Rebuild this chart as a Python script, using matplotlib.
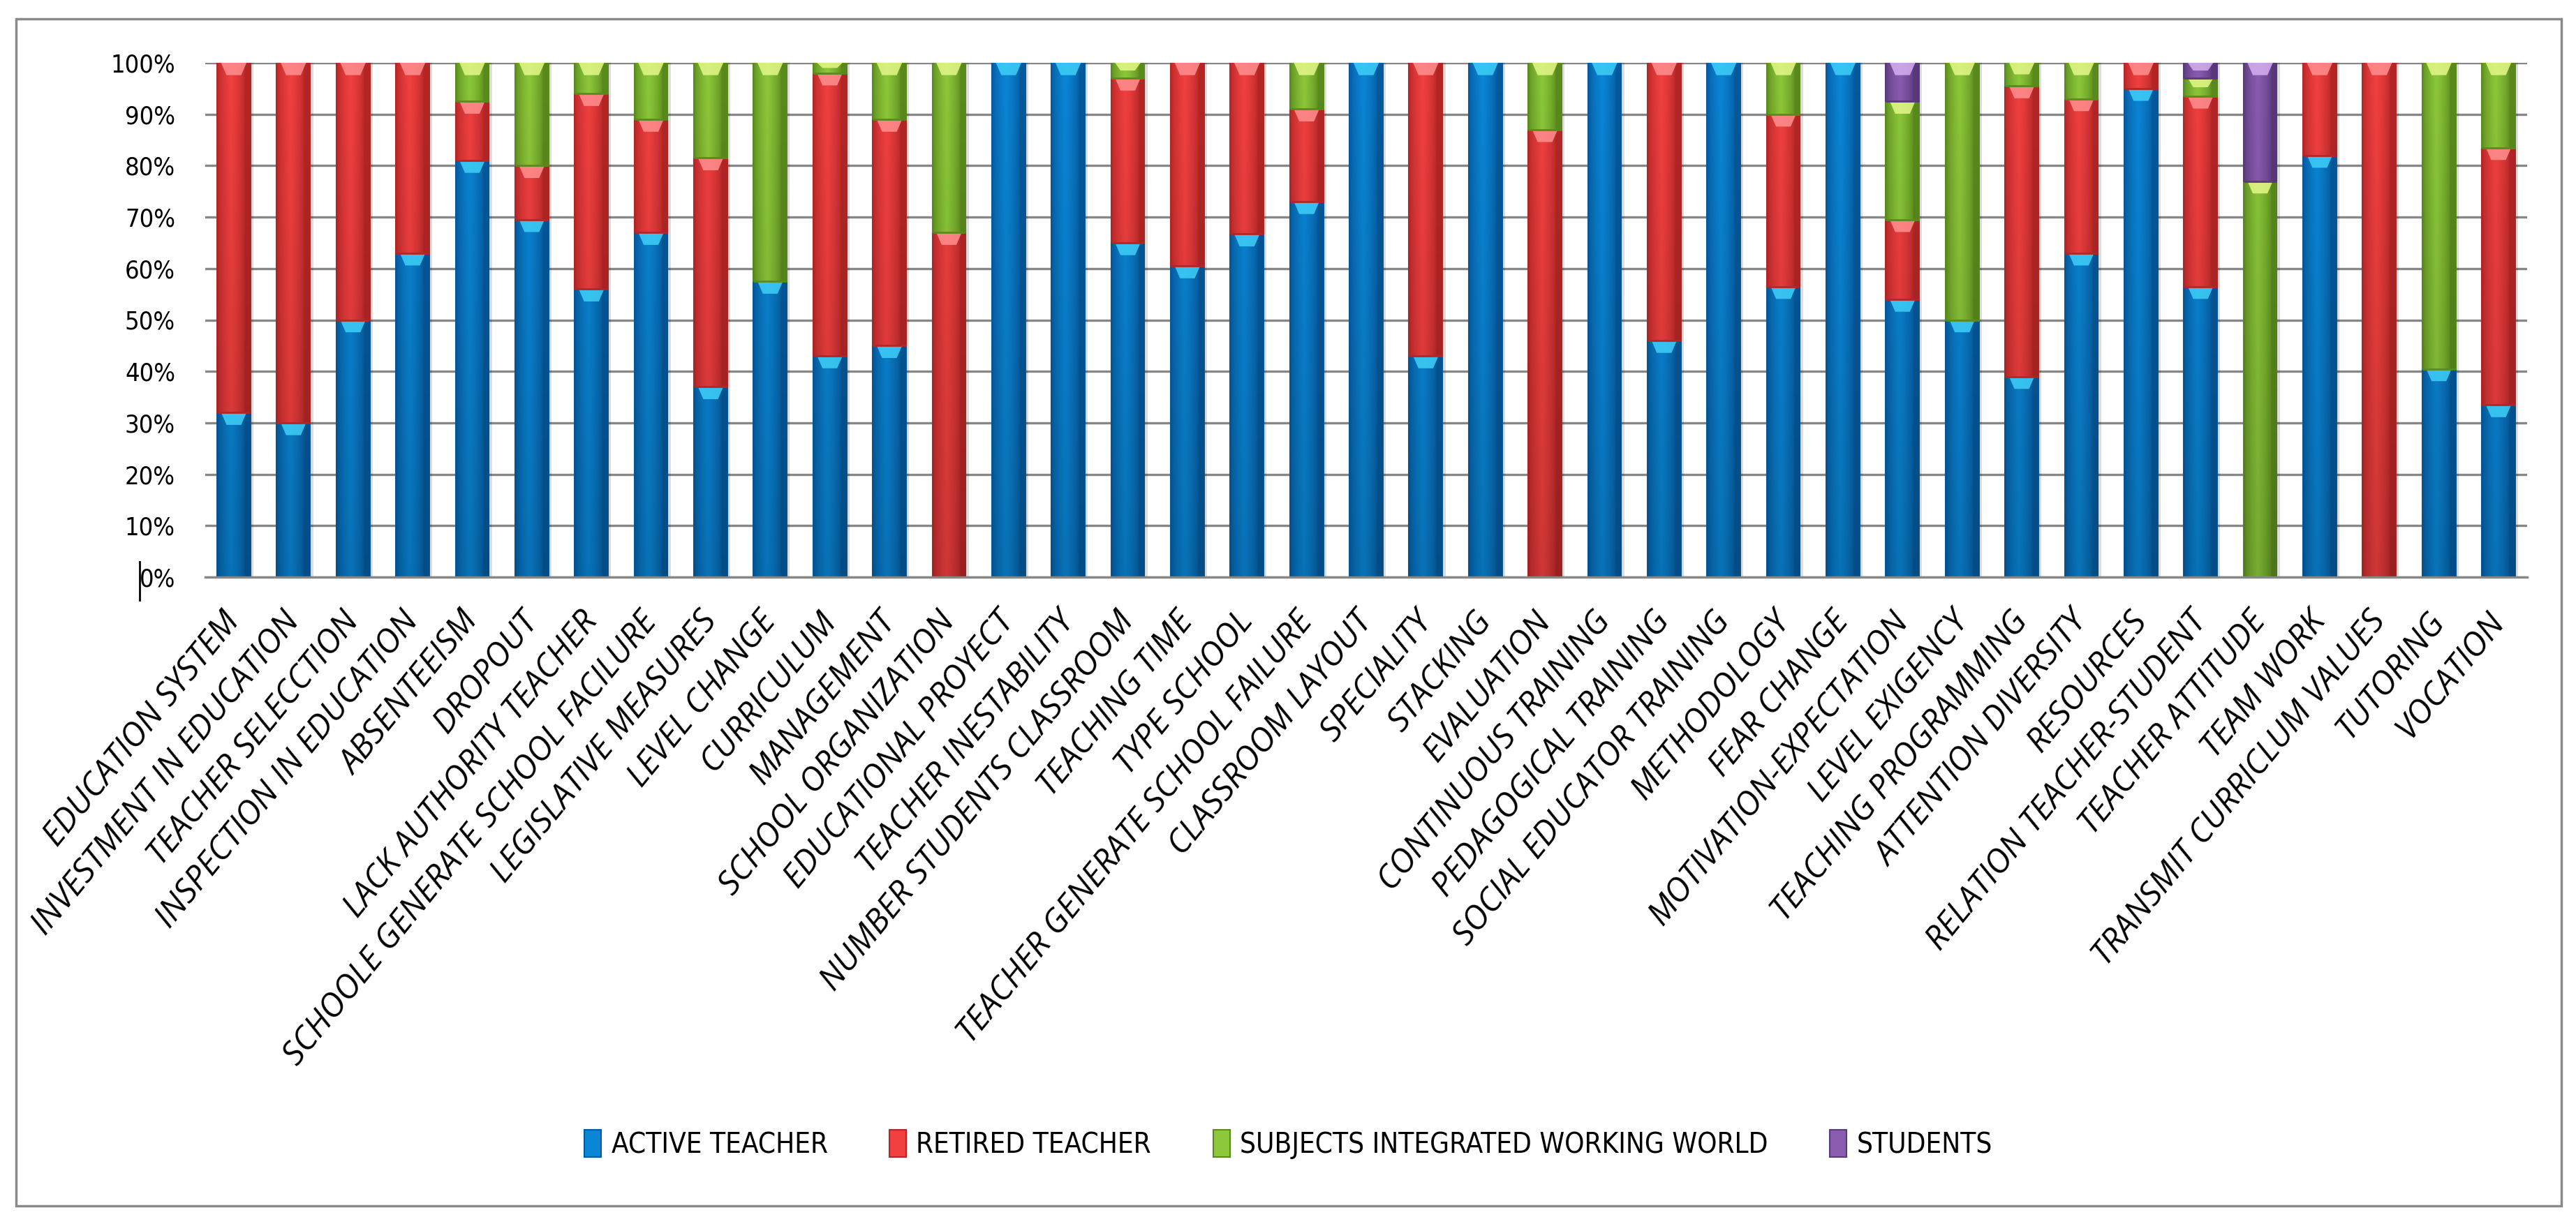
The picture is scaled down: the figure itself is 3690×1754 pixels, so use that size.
import numpy as np
import matplotlib
matplotlib.use("Agg")
import matplotlib.pyplot as plt
from matplotlib.patches import Rectangle, Polygon
from matplotlib.lines import Line2D
from matplotlib import font_manager

# ---- data (percent of answers per category) ----
categories = [
    "EDUCATION SYSTEM", "INVESTMENT IN EDUCATION", "TEACHER SELECCTION",
    "INSPECTION IN EDUCATION", "ABSENTEEISM", "DROPOUT", "LACK AUTHORITY TEACHER",
    "SCHOOLE GENERATE SCHOOL FACILURE", "LEGISLATIVE MEASURES", "LEVEL CHANGE",
    "CURRICULUM", "MANAGEMENT", "SCHOOL ORGANIZATION", "EDUCATIONAL PROYECT",
    "TEACHER INESTABILITY", "NUMBER STUDENTS CLASSROOM", "TEACHING TIME",
    "TYPE SCHOOL", "TEACHER GENERATE SCHOOL FAILURE", "CLASSROOM LAYOUT",
    "SPECIALITY", "STACKING", "EVALUATION", "CONTINUOUS TRAINING",
    "PEDAGOGICAL TRAINING", "SOCIAL EDUCATOR TRAINING", "METHODOLOGY",
    "FEAR CHANGE", "MOTIVATION-EXPECTATION", "LEVEL EXIGENCY",
    "TEACHING PROGRAMMING", "ATTENTION DIVERSITY", "RESOURCES",
    "RELATION TEACHER-STUDENT", "TEACHER ATTITUDE", "TEAM WORK",
    "TRANSMIT CURRICLUM VALUES", "TUTORING", "VOCATION",
]
active = [32, 30, 50, 63, 81, 69.5, 56, 67, 37, 57.5,
          43, 45, 0, 100, 100, 65, 60.5, 66.7, 73, 100,
          43, 100, 0, 100, 46, 100, 56.5, 100, 54, 50,
          39, 63, 95, 56.5, 0, 82, 0, 40.5, 33.5]
retired = [68, 70, 50, 37, 11.5, 10.5, 38, 22, 44.5, 0,
           55, 44, 67, 0, 0, 32, 39.5, 33.3, 18, 0,
           57, 0, 87, 0, 54, 0, 33.5, 0, 15.5, 0,
           56.5, 30, 5, 37, 0, 18, 100, 0, 50]
subjects = [0, 0, 0, 0, 7.5, 20, 6, 11, 18.5, 42.5,
            2, 11, 33, 0, 0, 3, 0, 0, 9, 0,
            0, 0, 13, 0, 0, 0, 10, 0, 23, 50,
            4.5, 7, 0, 3.5, 77, 0, 0, 59.5, 16.5]
students = [0] * 28 + [7.5, 0, 0, 0, 0, 3, 23, 0, 0, 0, 0]

series_names = ["ACTIVE TEACHER", "RETIRED TEACHER",
                "SUBJECTS INTEGRATED WORKING WORLD", "STUDENTS"]

# colours: (edge/dark, light, highlight)
colors = [
    ("#05599c", "#0a86d6", "#3fd0f8"),
    ("#b42626", "#f24040", "#ff9090"),
    ("#5a8a1c", "#8cc83a", "#e4f88a"),
    ("#5a387c", "#8a5cb0", "#d6b0f4"),
]

W, H = 3691, 1754
narrow = "Liberation Sans Narrow"
have_narrow = any(f.name == narrow for f in font_manager.fontManager.ttflist)
narrow_family = [narrow, "DejaVu Sans"] if have_narrow else ["DejaVu Sans"]
narrow_stretch = "normal" if have_narrow else "condensed"

fig = plt.figure(figsize=(W / 100, H / 100), dpi=100)
ax = fig.add_axes([294 / W, 1 - 827 / H, (3620 - 294) / W, (827 - 90) / H])

x = np.arange(len(categories))
width = 0.56
totals = np.array(active) + np.array(retired) + np.array(subjects) + np.array(students)

# drop shadow
ax.bar(x + 0.05, totals, width, color="black", alpha=0.13, zorder=1.5, linewidth=0)

bottom = np.zeros(len(categories))
prof = np.linspace(0, 1, 64)
# horizontal profile: dark edges, bright band left of centre
t = np.clip(1 - np.abs(prof - 0.42) / 0.42, 0, 1) ** 0.6
for vals, (dark, light, hi) in zip([active, retired, subjects, students], colors):
    vals = np.array(vals, dtype=float)
    bars = ax.bar(x, vals, width, bottom=bottom, color=light, zorder=2,
                  edgecolor=dark, linewidth=1.5)
    cd = np.array(matplotlib.colors.to_rgb(dark))
    cl = np.array(matplotlib.colors.to_rgb(light))
    for b in bars:
        bx, by, bw, bh = b.get_x(), b.get_y(), b.get_width(), b.get_height()
        if bh <= 0:
            continue
        ys = np.linspace(by + bh, by, 32)
        vfac = 0.86 + 0.14 * ys / 100
        img = (cd[None, None, :] + (cl - cd)[None, None, :] * t[None, :, None]) * vfac[:, None, None]
        im = ax.imshow(np.clip(img, 0, 1), extent=[bx, bx + bw, by, by + bh],
                       aspect="auto", zorder=2.1, interpolation="bilinear")
        im.set_clip_path(b)
        top = by + bh
        hh = min(2.4, bh * 0.5)
        ax.add_patch(Polygon([(bx + 0.12 * bw, top), (bx + 0.88 * bw, top),
                              (bx + 0.72 * bw, top - hh), (bx + 0.28 * bw, top - hh)],
                             closed=True, facecolor=hi, edgecolor="none",
                             alpha=0.85, zorder=2.2))
        ax.plot([bx, bx + bw], [by, by], color=dark, lw=2, zorder=2.3,
                solid_capstyle="butt")
    bottom += vals

ax.set_xlim(-0.48, len(categories) - 0.52)
ax.set_ylim(0, 100)
ax.set_yticks(range(0, 101, 10))
ax.set_yticklabels([f"{v}%" for v in range(0, 101, 10)],
                   family=narrow_family, stretch=narrow_stretch, fontsize=26)
ax.set_xticks(x)
ax.set_xticklabels(categories, rotation=51, ha="right", va="center",
                   rotation_mode="anchor", fontstyle="italic",
                   family=["Open Sans", "DejaVu Sans"], fontsize=34)
ax.tick_params(axis="both", length=0)
ax.tick_params(axis="y", pad=31)
ax.tick_params(axis="x", pad=40)

ax.grid(axis="y", color="#878787", linewidth=2.4, zorder=0.5)
ax.set_axisbelow(True)
for s in ["top", "left", "right"]:
    ax.spines[s].set_visible(False)
ax.spines["bottom"].set_color("#878787")
ax.spines["bottom"].set_linewidth(2.4)
ax.spines["bottom"].set_zorder(3)

# legend
handles = [Rectangle((0, 0), 1, 1, facecolor=c[1], edgecolor=c[0], linewidth=1.5)
           for c in colors]
fig.legend(handles, series_names, loc="center", bbox_to_anchor=(0.5, 1 - 1640 / H),
           ncol=4, frameon=False, handlelength=0.6, handleheight=1.1,
           handletextpad=0.35, columnspacing=2.2,
           prop={"family": narrow_family, "stretch": narrow_stretch, "size": 29})

# outer frame and the stray cursor mark next to 0%
fig.add_artist(Rectangle((23 / W, 1 - 1728 / H), (3669 - 23) / W, (1728 - 27) / H,
                         transform=fig.transFigure, fill=False,
                         edgecolor="#8a8a8a", linewidth=2.5))
fig.add_artist(Line2D([200 / W, 200 / W], [1 - 805 / H, 1 - 860 / H],
                      transform=fig.transFigure, color="black", linewidth=2))

fig.savefig("out.png", dpi=100, facecolor="white")
